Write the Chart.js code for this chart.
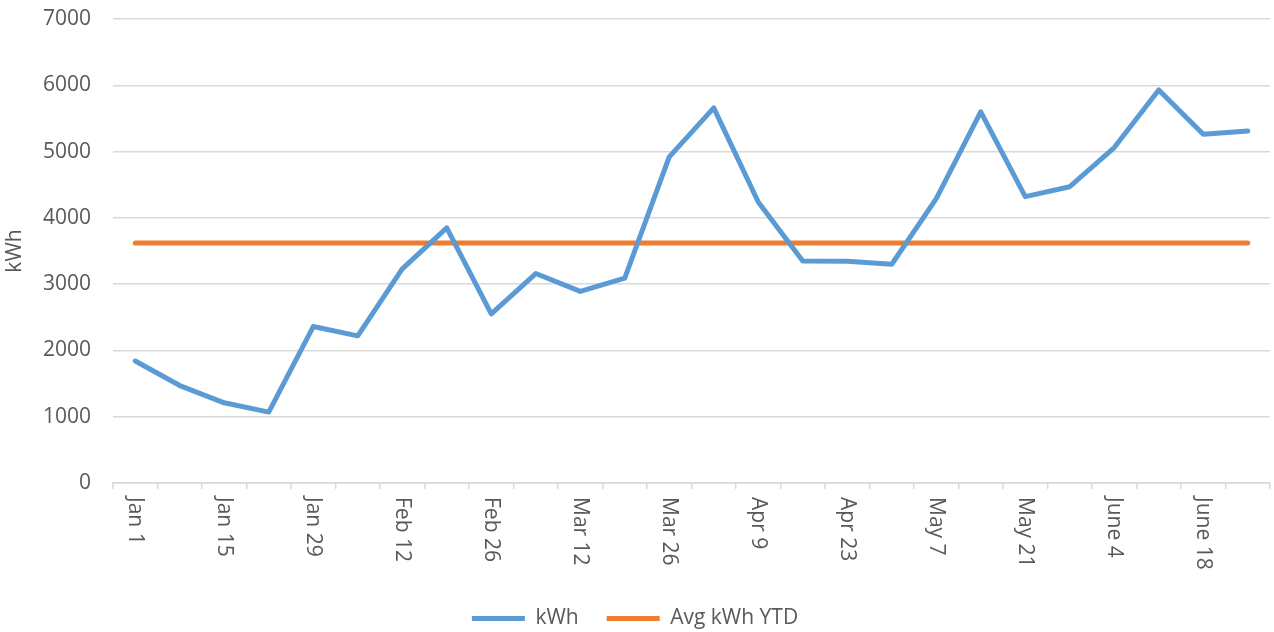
<!DOCTYPE html>
<html>
<head>
<meta charset="utf-8">
<script src="https://cdn.jsdelivr.net/npm/chart.js@4"></script>
<style>
    html, body { margin: 0; padding: 0; background: #fff; }
    #wrap { width: 1274px; height: 632px; }
</style>
</head>
<body>
<div id="wrap"><canvas id="myChart"></canvas></div>
<script>
// 週ごとのラベル(表示は1つおき)
const weeks = ["Jan 1", "Jan 8", "Jan 15", "Jan 22", "Jan 29", "Feb 5", "Feb 12", "Feb 19",
    "Feb 26", "Mar 5", "Mar 12", "Mar 19", "Mar 26", "Apr 2", "Apr 9", "Apr 16",
    "Apr 23", "Apr 30", "May 7", "May 14", "May 21", "May 28", "June 4", "June 11",
    "June 18", "June 25"];
// 週ごとの使用量
const kwh = [1840, 1470, 1210, 1070, 2360, 2220, 3230, 3850, 2550, 3160, 2890, 3090,
    4920, 5660, 4240, 3350, 3345, 3300, 4290, 5600, 4320, 4470, 5060, 5930, 5260, 5310];
// 年初来平均
const avgYtd = 3620;
const yTicks = [0, 1000, 2000, 3000, 4000, 5000, 6000, 7000];

const textColor = "#595959";
const gridColor = "#D9D9D9";
const fontFamily = "'Open Sans', sans-serif";

// x軸のラベルを時計回りに90度回転して描く
const verticalLabels = {
    id: "verticalLabels",
    afterLayout(chart) {
        // 凡例を少し下げる
        chart.legend.top += 7;
        chart.legend.bottom += 7;
    },
    afterDraw(chart) {
        const xs = chart.scales.x;
        const c = chart.ctx;
        c.save();
        c.fillStyle = textColor;
        c.font = "21px " + fontFamily;
        c.textAlign = "left";
        c.textBaseline = "middle";
        weeks.forEach((w, i) => {
            if (i % 2 !== 0) return;
            const x = xs.getPixelForValue(i);
            c.save();
            c.translate(x, xs.top + 14);
            c.rotate(Math.PI / 2);
            c.fillText(w, 0, 0);
            c.restore();
        });
        c.restore();
    }
};

const ctx = document.getElementById("myChart");
new Chart(ctx, {
    type: "line",
    data: {
        labels: weeks,
        datasets: [
            {
                label: "kWh",
                data: kwh,
                borderColor: "#5B9BD5",
                backgroundColor: "#5B9BD5",
                borderWidth: 5,
                borderCapStyle: "round",
                borderJoinStyle: "round",
                pointRadius: 0,
                tension: 0,
            },
            {
                label: "Avg kWh YTD",
                data: weeks.map(() => avgYtd),
                borderColor: "#ED7D31",
                backgroundColor: "#ED7D31",
                borderWidth: 5,
                borderCapStyle: "round",
                pointRadius: 0,
                tension: 0,
            },
        ],
    },
    options: {
        responsive: true,
        maintainAspectRatio: false,
        animation: false,
        layout: { padding: { top: 0, right: 4, left: 0, bottom: 0 } },
        plugins: {
            tooltip: { enabled: false },
            legend: {
                position: "bottom",
                labels: {
                    usePointStyle: true,
                    pointStyle: "line",
                    pointStyleWidth: 53,
                    boxWidth: 53,
                    boxHeight: 5,
                    padding: 28,
                    color: textColor,
                    font: { family: fontFamily, size: 21 },
                },
            },
        },
        scales: {
            x: {
                offset: true,
                grid: {
                    offset: true,
                    drawOnChartArea: false,
                    drawTicks: true,
                    tickLength: 6,
                    color: gridColor,
                    lineWidth: 1.5,
                },
                border: { color: gridColor, width: 1.5 },
                ticks: { display: false, autoSkip: false },
                afterFit: (scale) => { scale.height = 90; },
            },
            y: {
                min: 0,
                max: 7000,
                afterBuildTicks: (scale) => {
                    scale.ticks = yTicks.map((v) => ({ value: v }));
                },
                grid: { color: gridColor, lineWidth: 1.5, drawTicks: false },
                border: { display: false },
                ticks: {
                    padding: 22,
                    color: textColor,
                    font: { family: fontFamily, size: 21 },
                    callback: (v) => String(v),
                },
                title: {
                    display: true,
                    text: "kWh",
                    color: textColor,
                    font: { family: fontFamily, size: 21 },
                    padding: { top: 2, bottom: 0 },
                },
                afterFit: (scale) => {
                    scale.width = 113;
                    scale.paddingTop = 19;
                },
            },
        },
    },
    plugins: [verticalLabels],
});
</script>
</body>
</html>
